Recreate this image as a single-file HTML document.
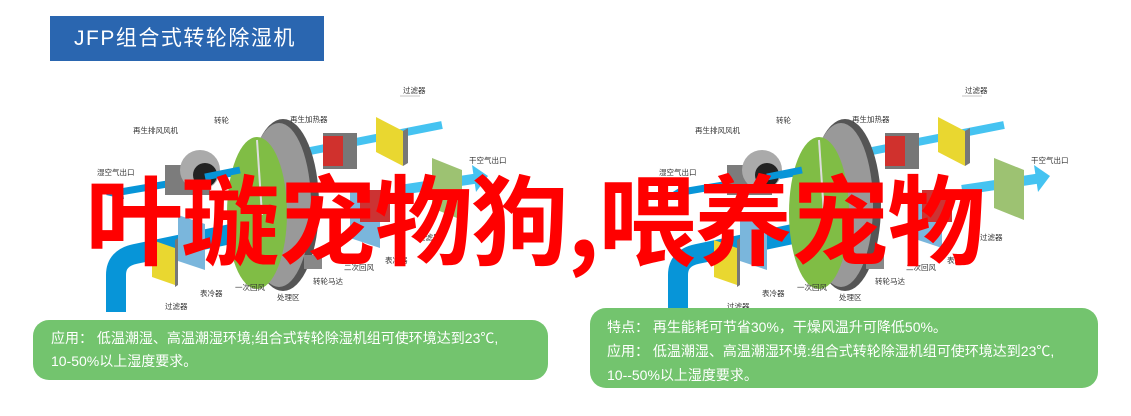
<!DOCTYPE html>
<html><head><meta charset="utf-8"><style>
body{margin:0;width:1131px;height:416px;background:#fff;position:relative;overflow:hidden;font-family:"Liberation Sans","Noto Sans CJK SC",sans-serif}
.hdr{position:absolute;left:50px;top:16px;width:274px;height:45px;background:#2a66b0;color:#fff;font-size:21px;line-height:45px;padding-left:24px;box-sizing:border-box;letter-spacing:1.5px}
.box{position:absolute;background:#73c46e;color:#fff;font-size:14px;border-radius:16px;box-sizing:border-box;white-space:nowrap}
.big{position:absolute;left:85px;top:160px;font-size:98px;line-height:110px;color:#f00;font-weight:bold;font-family:"Noto Sans CJK SC",sans-serif;white-space:nowrap;letter-spacing:-1.5px}
svg{position:absolute;left:0;top:0}
</style></head><body>
<div class="hdr">JFP组合式转轮除湿机</div>
<svg width="1131" height="416" font-family="Noto Sans CJK SC, sans-serif" font-size="7.5" fill="#333">
<defs>
<g id="d">
 <path d="M116 312 V275 Q116 258 135 254 L250 230" stroke="#0795d8" stroke-width="20" fill="none"/>
 <path d="M442 125 L300 153" stroke="#45c3f1" stroke-width="8"/>
 <polygon points="290,155 304,146 306,160" fill="#45c3f1"/>
 <path d="M250 170 L120 192" stroke="#0795d8" stroke-width="7"/>
 <polygon points="106,195 122,185 124,199" fill="#0795d8"/>
 <path d="M400 190 L480 178" stroke="#45c3f1" stroke-width="10"/>
 <polygon points="488,176 472,165 476,192" fill="#45c3f1"/>
 <ellipse cx="283" cy="205" rx="36" ry="86" fill="#555"/>
 <ellipse cx="279" cy="205" rx="32" ry="82" fill="#999"/>
 <ellipse cx="257" cy="213" rx="30" ry="76" fill="#80bd45"/>
 <line x1="257" y1="140" x2="262" y2="215" stroke="#ddd" stroke-width="2"/>
 <rect x="165" y="165" width="45" height="30" fill="#7c7c7c"/>
 <circle cx="200" cy="170" r="20" fill="#aaa"/>
 <circle cx="205" cy="175" r="12" fill="#222"/>
 <path d="M240 170 L205 177" stroke="#0795d8" stroke-width="7"/>
 <rect x="323" y="133" width="34" height="36" fill="#777"/>
 <rect x="323" y="136" width="20" height="30" fill="#d0312d"/>
 <polygon points="376,117 403,131 403,166 376,152" fill="#e9d730"/>
 <polygon points="403,131 408,128 408,163 403,166" fill="#777"/>
 <polygon points="432,158 462,170 462,220 432,208" fill="#9dc272"/>
 <polygon points="350,190 380,200 380,248 350,238" fill="#7ab6dc"/>
 <rect x="360" y="190" width="30" height="32" fill="#c33"/>
 <polygon points="152,240 175,248 175,285 152,277" fill="#e9d730"/>
 <polygon points="175,240 178,238 178,285 175,287" fill="#777"/>
 <polygon points="178,215 205,224 205,270 178,261" fill="#7ab6dc"/>
 <rect x="304" y="255" width="18" height="14" fill="#888"/>
 <text x="403" y="93">过滤器</text><line x1="400" y1="96" x2="420" y2="96" stroke="#888" stroke-width=".5"/>
 <text x="290" y="122">再生加热器</text>
 <text x="214" y="123">转轮</text>
 <text x="133" y="133">再生排风风机</text>
 <text x="97" y="175">湿空气出口</text>
 <text x="469" y="163">干空气出口</text>
 <text x="200" y="296">表冷器</text>
 <text x="235" y="290">一次回风</text>
 <text x="277" y="300">处理区</text>
 <text x="165" y="309">过滤器</text>
 <text x="313" y="284">转轮马达</text>
 <text x="344" y="270">二次回风</text>
 <text x="385" y="263">表冷器</text>
 <text x="418" y="240">过滤器</text>
</g>
</defs>
<use href="#d"/>
<use href="#d" x="562"/>
</svg>
<div class="big">叶璇宠物狗,喂养宠物</div>
<div class="box" style="left:33px;top:320px;width:515px;height:60px;padding:7px 0 0 18px;line-height:23px">应用：&nbsp;低温潮湿、高温潮湿环境;组合式转轮除湿机组可使环境达到23℃,<br>10-50%以上湿度要求。</div>
<div class="box" style="left:590px;top:308px;width:508px;height:80px;padding:7px 0 0 17px;line-height:24px">特点：&nbsp;再生能耗可节省30%，干燥风温升可降低50%。<br>应用：&nbsp;低温潮湿、高温潮湿环境:组合式转轮除湿机组可使环境达到23℃,<br>10--50%以上湿度要求。</div>
</body></html>
